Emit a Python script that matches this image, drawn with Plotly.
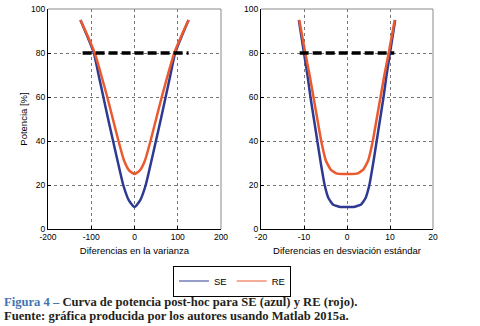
import plotly.graph_objects as go

# ---- data ----
var_x_se = [-125, -110, -94, -83, -72, -61, -49.5, -38, -26, -13, 0, 13, 26, 38, 49.5, 61, 72, 83, 94, 110, 125]
var_y_se = [95, 88, 80, 70, 60, 50, 40, 30, 20, 13, 10, 13, 20, 30, 40, 50, 60, 70, 80, 88, 95]
var_x_re = [-125, -110, -92, -77, -63, -50, -37, -24, -12, 0, 12, 24, 37, 50, 63, 77, 92, 110, 125]
var_y_re = [95, 88.5, 80, 70, 60, 50, 40, 31, 26.5, 25, 26.5, 31, 40, 50, 60, 70, 80, 88.5, 95]

sd_x_se = [-11.2, -10, -9.2, -8.5, -7.7, -6.9, -6.1, -5.2, -4.3, -3.2, -1.5, 0, 1.5, 3.2, 4.3, 5.2, 6.1, 6.9, 7.7, 8.5, 9.2, 10, 11.2]
sd_y_se = [95, 80, 70, 60, 50, 40, 30, 20, 14, 11, 10, 10, 10, 11, 14, 20, 30, 40, 50, 60, 70, 80, 95]
sd_x_re = [-11.1, -9.7, -8.7, -7.8, -6.9, -6.0, -4.9, -3.8, -2.5, -1, 0, 1, 2.5, 3.8, 4.9, 6.0, 6.9, 7.8, 8.7, 9.7, 11.1]
sd_y_re = [95, 80, 70, 60, 50, 40, 31, 27, 25.3, 25, 25, 25, 25.3, 27, 31, 40, 50, 60, 70, 80, 95]

ref_var_x = [-120, 125]
ref_sd_x = [-11, 11]
ref_y = [80, 80]

x_ticks_var = [-200, -100, 0, 100, 200]
x_ticks_sd = [-20, -10, 0, 10, 20]
y_ticks = [0, 20, 40, 60, 80, 100]

BLUE = "#2e3a92"
RED = "#ea5a2e"

fig = go.Figure()
line_se = dict(color=BLUE, width=2.5, shape="spline", smoothing=0.5)
line_re = dict(color=RED, width=2.5, shape="spline", smoothing=0.5)
line_se2 = dict(color=BLUE, width=2.5, shape="spline", smoothing=0.35)
line_re2 = dict(color=RED, width=2.5, shape="spline", smoothing=0.35)
dash_ln = dict(color="black", width=3.5, dash="9px,4px")
fig.add_trace(go.Scatter(x=var_x_se, y=var_y_se, mode="lines", showlegend=False, line=line_se, xaxis="x", yaxis="y"))
fig.add_trace(go.Scatter(x=var_x_re, y=var_y_re, mode="lines", showlegend=False, line=line_re, xaxis="x", yaxis="y"))
fig.add_trace(go.Scatter(x=ref_var_x, y=ref_y, mode="lines", showlegend=False, line=dash_ln, xaxis="x", yaxis="y"))
fig.add_trace(go.Scatter(x=sd_x_se, y=sd_y_se, mode="lines", showlegend=False, line=line_se2, xaxis="x2", yaxis="y2"))
fig.add_trace(go.Scatter(x=sd_x_re, y=sd_y_re, mode="lines", showlegend=False, line=line_re2, xaxis="x2", yaxis="y2"))
fig.add_trace(go.Scatter(x=ref_sd_x, y=ref_y, mode="lines", showlegend=False, line=dash_ln, xaxis="x2", yaxis="y2"))
# legend entries (thin lines as in the reference legend)
fig.add_trace(go.Scatter(x=[None], y=[None], mode="lines", name="SE", line=dict(color=BLUE, width=1), xaxis="x", yaxis="y"))
fig.add_trace(go.Scatter(x=[None], y=[None], mode="lines", name="RE", line=dict(color=RED, width=1), xaxis="x", yaxis="y"))

W, H = 480, 326
def px(v):
    return v / W
def py(v):
    return 1 - v / H

tickfont = dict(family="Liberation Sans, Arial", size=8.5, color="black")
titlefont = dict(family="Liberation Sans, Arial", size=9.5, color="black")
common_x = dict(showgrid=True, gridcolor="#777", griddash="dot", gridwidth=1, automargin=False,
                zeroline=False, showline=True, linecolor="black", linewidth=1, ticks="inside",
                ticklen=3, tickcolor="black", tickfont=tickfont, title_font=titlefont, title_standoff=6)
common_y = dict(range=[0, 100], tickvals=y_ticks, showgrid=True, gridcolor="#777", griddash="dot", gridwidth=1,
                zeroline=False, showline=True, linecolor="black", linewidth=1, ticks="inside", automargin=False,
                ticklen=3, tickcolor="black", tickfont=tickfont, title_font=titlefont)

fig.update_layout(
    width=W, height=H, margin=dict(l=0, r=0, t=0, b=0),
    paper_bgcolor="white", plot_bgcolor="white",
    xaxis=dict(domain=[px(48), px(221)], anchor="y", range=[-200, 200], tickvals=x_ticks_var,
               ticktext=[str(v) for v in x_ticks_var],
               title_text="Diferencias en la varianza", **common_x),
    yaxis=dict(domain=[py(229), py(9)], anchor="x", title_text="Potencia [%]", title_standoff=1, **common_y),
    xaxis2=dict(domain=[px(261), px(433)], anchor="y2", range=[-20, 20], tickvals=x_ticks_sd,
                ticktext=[str(v) for v in x_ticks_sd],
                title_text="Diferencias en desviación estándar", **common_x),
    yaxis2=dict(domain=[py(229), py(9)], anchor="x2", **common_y),
    showlegend=True,
    legend=dict(orientation="h", x=px(173), y=py(265.5), xanchor="left", yanchor="top",
                bordercolor="black", borderwidth=1, bgcolor="white",
                font=dict(family="Liberation Sans, Arial", size=9.5, color="black"),
                itemwidth=30, tracegroupgap=0),
)

# top/right frame lines in grey
for x0, x1 in [(48, 221), (261, 433)]:
    fig.add_shape(type="line", xref="paper", yref="paper", x0=px(x0), x1=px(x1), y0=py(9), y1=py(9),
                  line=dict(color="#8a8a8a", width=1), layer="above")
    fig.add_shape(type="line", xref="paper", yref="paper", x0=px(x1), x1=px(x1), y0=py(9), y1=py(229),
                  line=dict(color="#8a8a8a", width=1), layer="above")

cap_font = dict(family="Liberation Serif, serif", size=12.6, color="#231f20", weight="bold")
fig.add_annotation(xref="paper", yref="paper", x=px(1.5), y=py(302), xanchor="left", yanchor="middle",
                   showarrow=False, align="left",
                   text="<span style='color:#3f74b0'>Figura 4 –</span> Curva de potencia post-hoc para SE (azul) y RE (rojo).",
                   font=cap_font)
fig.add_annotation(xref="paper", yref="paper", x=px(1.5), y=py(316), xanchor="left", yanchor="middle",
                   showarrow=False, align="left",
                   text="Fuente: gráfica producida por los autores usando Matlab 2015a.",
                   font=cap_font)

fig.write_html("out.html", config={"displayModeBar": False},
               post_script="document.body.style.margin='0';document.body.style.overflow='hidden';")
